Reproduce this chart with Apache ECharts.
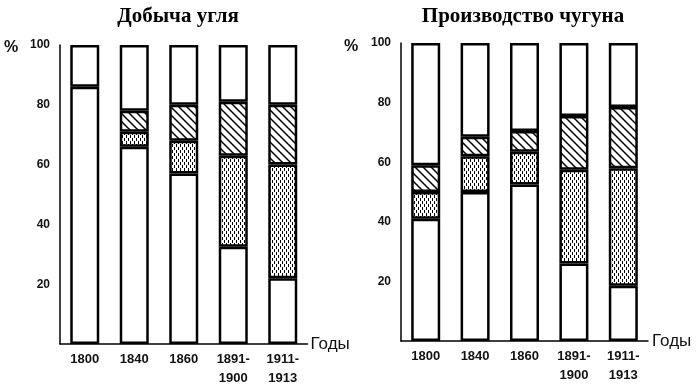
<!DOCTYPE html>
<html>
<head>
<meta charset="utf-8">
<script src="https://cdn.jsdelivr.net/npm/echarts@6/dist/echarts.min.js"></script>
<style>
html,body{margin:0;padding:0;background:#fff;}
#chart{width:700px;height:389px;}
</style>
</head>
<body>
<div id="chart"></div>
<script>
// ---- data ----
var categories = ['1800', '1840', '1860', '1891-\n1900', '1911-\n1913'];
var yTicks = [0, 20, 40, 60, 80, 100];

// Добыча угля (coal), % shares, bottom to top
var coalWhite   = [86, 66, 57, 32.5, 22];
var coalDotted  = [null, 5, 11, 30.5, 38];
var coalHatched = [null, 7, 12, 18, 20];
var coalRest    = [14, 22, 20, 19, 20];

// Производство чугуна (pig iron), % shares, bottom to top
var ironWhite   = [41, 50, 52.5, 26, 18.5];
var ironDotted  = [9, 12, 11, 31.5, 39.5];
var ironHatched = [9, 6.5, 7, 18, 20.5];
var ironRest    = [41, 31.5, 29.5, 24.5, 21.5];

var titles = ['Добыча угля', 'Производство чугуна'];
var axisName = 'Годы';
var unitLabel = '%';

// ---- patterns ----
function hatchPattern() {
  var c = document.createElement('canvas');
  c.width = 8; c.height = 8;
  var g = c.getContext('2d');
  g.fillStyle = '#fff'; g.fillRect(0, 0, 8, 8);
  g.strokeStyle = '#000'; g.lineWidth = 1.5;
  g.beginPath();
  g.moveTo(-2, -2); g.lineTo(10, 10);
  g.moveTo(-10, -2); g.lineTo(2, 10);
  g.moveTo(6, -2); g.lineTo(18, 10);
  g.stroke();
  return c;
}
function dotPattern() {
  var c = document.createElement('canvas');
  c.width = 4; c.height = 6;
  var g = c.getContext('2d');
  g.fillStyle = '#fff'; g.fillRect(0, 0, 4, 6);
  g.fillStyle = '#000';
  g.fillRect(0, 0, 1, 3);
  g.fillRect(2, 3, 1, 3);
  return c;
}
var hatchFill = { image: hatchPattern(), repeat: 'repeat' };
var dotFill = { image: dotPattern(), repeat: 'repeat' };

var chart = echarts.init(document.getElementById('chart'), null, { renderer: 'canvas' });

var grids = [
  { left: 60, top: 45, width: 247.5, height: 299 },
  { left: 401, top: 43, width: 247, height: 298 }
];

function xAxis(i, gap) {
  return {
    type: 'category', gridIndex: i, data: categories,
    name: axisName, nameLocation: 'end', nameGap: gap,
    nameTextStyle: { fontFamily: 'Liberation Sans', fontSize: 17, color: '#111' },
    axisLine: { lineStyle: { color: '#000', width: 1.5 } },
    axisTick: { show: false },
    axisLabel: { fontFamily: 'Liberation Sans', fontSize: 13, fontWeight: 'bold', color: '#111',
                 margin: 6, lineHeight: 19, interval: 0 }
  };
}
function yAxis(i) {
  return {
    type: 'value', gridIndex: i, min: yTicks[0], max: yTicks[yTicks.length - 1], interval: 20,
    splitLine: { show: false },
    axisLine: { show: true, lineStyle: { color: '#000', width: 1.5 } },
    axisTick: { show: false },
    axisLabel: { fontFamily: 'Liberation Sans', fontSize: 12, fontWeight: 'bold', color: '#111', margin: 10,
                 formatter: function (v) { return v === 0 ? '' : String(v); } }
  };
}
var border = { borderColor: '#000', borderWidth: 2.5 };
function seriesFor(i, white, dotted, hatched, rest) {
  var stack = 's' + i;
  var mk = function (data, color) {
    return { type: 'bar', xAxisIndex: i, yAxisIndex: i, stack: stack, barWidth: 29,
             data: data, itemStyle: Object.assign({ color: color }, border),
             emphasis: { disabled: true }, animation: false };
  };
  return [mk(white, '#fff'), mk(dotted, dotFill), mk(hatched, hatchFill), mk(rest, '#fff')];
}

chart.setOption({
  backgroundColor: '#fff',
  animation: false,
  grid: grids,
  xAxis: [xAxis(0, 3), xAxis(1, 4)],
  yAxis: [yAxis(0), yAxis(1)],
  series: [].concat(
    seriesFor(0, coalWhite, coalDotted, coalHatched, coalRest),
    seriesFor(1, ironWhite, ironDotted, ironHatched, ironRest)
  ),
  graphic: [
    { type: 'text', x: 178, y: 17,
      style: { text: titles[0], fontFamily: 'Liberation Serif', fontWeight: 'bold', fontSize: 21,
               fill: '#000', textAlign: 'center', textVerticalAlign: 'middle' } },
    { type: 'text', x: 523, y: 17,
      style: { text: titles[1], fontFamily: 'Liberation Serif', fontWeight: 'bold', fontSize: 21,
               fill: '#000', textAlign: 'center', textVerticalAlign: 'middle' } },
    { type: 'text', x: 11, y: 48,
      style: { text: unitLabel, fontFamily: 'Liberation Sans', fontWeight: 'bold', fontSize: 16,
               fill: '#111', textAlign: 'center', textVerticalAlign: 'middle' } },
    { type: 'text', x: 351, y: 47,
      style: { text: unitLabel, fontFamily: 'Liberation Sans', fontWeight: 'bold', fontSize: 16,
               fill: '#111', textAlign: 'center', textVerticalAlign: 'middle' } }
  ]
});
</script>
</body>
</html>
